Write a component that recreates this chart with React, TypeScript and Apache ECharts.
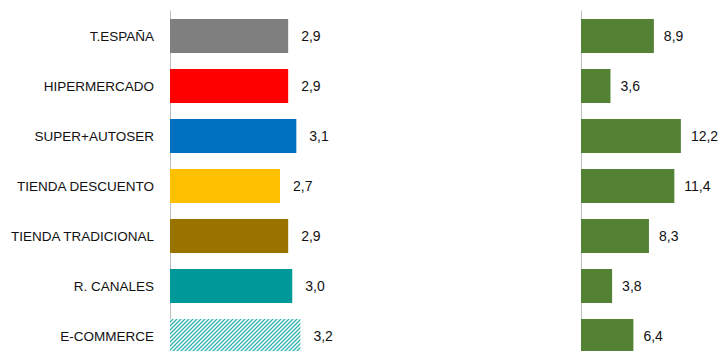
import React, { useEffect, useRef } from "react";
import * as echarts from "echarts";

const categories = [
  "T.ESPAÑA",
  "HIPERMERCADO",
  "SUPER+AUTOSER",
  "TIENDA DESCUENTO",
  "TIENDA TRADICIONAL",
  "R. CANALES",
  "E-COMMERCE",
];
const leftValues = [2.9, 2.9, 3.1, 2.7, 2.9, 3.0, 3.2];
const rightValues = [8.9, 3.6, 12.2, 11.4, 8.3, 3.8, 6.4];
const leftColors = ["#7f7f7f", "#ff0000", "#0070c0", "#ffc000", "#997300", "#009999", "hatch"];
const rightColor = "#548235";

function makeHatch(): any {
  const c = document.createElement("canvas");
  c.width = 4;
  c.height = 4;
  const ctx = c.getContext("2d")!;
  ctx.fillStyle = "#ffffff";
  ctx.fillRect(0, 0, 4, 4);
  ctx.strokeStyle = "#33b3b0";
  ctx.lineWidth = 1.3;
  ctx.beginPath();
  ctx.moveTo(-1, 5);
  ctx.lineTo(5, -1);
  ctx.moveTo(-1, 1);
  ctx.lineTo(1, -1);
  ctx.moveTo(3, 5);
  ctx.lineTo(5, 3);
  ctx.stroke();
  return { image: c, repeat: "repeat" };
}

const fmt = (v: number) => v.toFixed(1).replace(".", ",");

export default function App() {
  const ref = useRef<HTMLDivElement>(null);
  useEffect(() => {
    const chart = echarts.init(ref.current!, null, { renderer: "svg" });
    const hatch = makeHatch();
    const font = "'Liberation Sans', Arial, sans-serif";
    chart.setOption({
      animation: false,
      grid: [
        { left: 170, top: 11, width: 163, height: 350 },
        { left: 581, top: 11, width: 131, height: 350 },
      ],
      xAxis: [
        { gridIndex: 0, type: "value", min: 0, max: 4, show: false },
        { gridIndex: 1, type: "value", min: 0, max: 16, show: false },
      ],
      yAxis: [
        {
          gridIndex: 0,
          type: "category",
          data: categories,
          inverse: true,
          axisLine: { show: true, lineStyle: { color: "#bfbfbf", width: 1 } },
          axisTick: { show: false },
          axisLabel: {
            color: "#111",
            fontSize: 13.5,
            fontFamily: font,
            margin: 16,
            align: "right",
          },
        },
        {
          gridIndex: 1,
          type: "category",
          data: categories,
          inverse: true,
          axisLine: { show: true, lineStyle: { color: "#bfbfbf", width: 1 } },
          axisTick: { show: false },
          axisLabel: { show: false },
        },
      ],
      series: [
        {
          type: "bar",
          xAxisIndex: 0,
          yAxisIndex: 0,
          barCategoryGap: "32%",
          data: leftValues.map((v, i) => ({
            value: v,
            itemStyle: { color: leftColors[i] === "hatch" ? hatch : leftColors[i] },
          })),
          label: {
            show: true,
            position: "right",
            distance: 13,
            color: "#111",
            fontSize: 14,
            fontFamily: font,
            formatter: (p: any) => fmt(p.value),
          },
        },
        {
          type: "bar",
          xAxisIndex: 1,
          yAxisIndex: 1,
          barCategoryGap: "32%",
          itemStyle: { color: rightColor },
          data: rightValues,
          label: {
            show: true,
            position: "right",
            distance: 10,
            color: "#111",
            fontSize: 14,
            fontFamily: font,
            formatter: (p: any) => fmt(p.value),
          },
        },
      ],
    });
    return () => chart.dispose();
  }, []);
  return (
    <div style={{ position: "absolute", left: 0, top: 0, width: 720, height: 351, overflow: "hidden" }}>
      <div ref={ref} style={{ width: 720, height: 372 }} />
    </div>
  );
}
